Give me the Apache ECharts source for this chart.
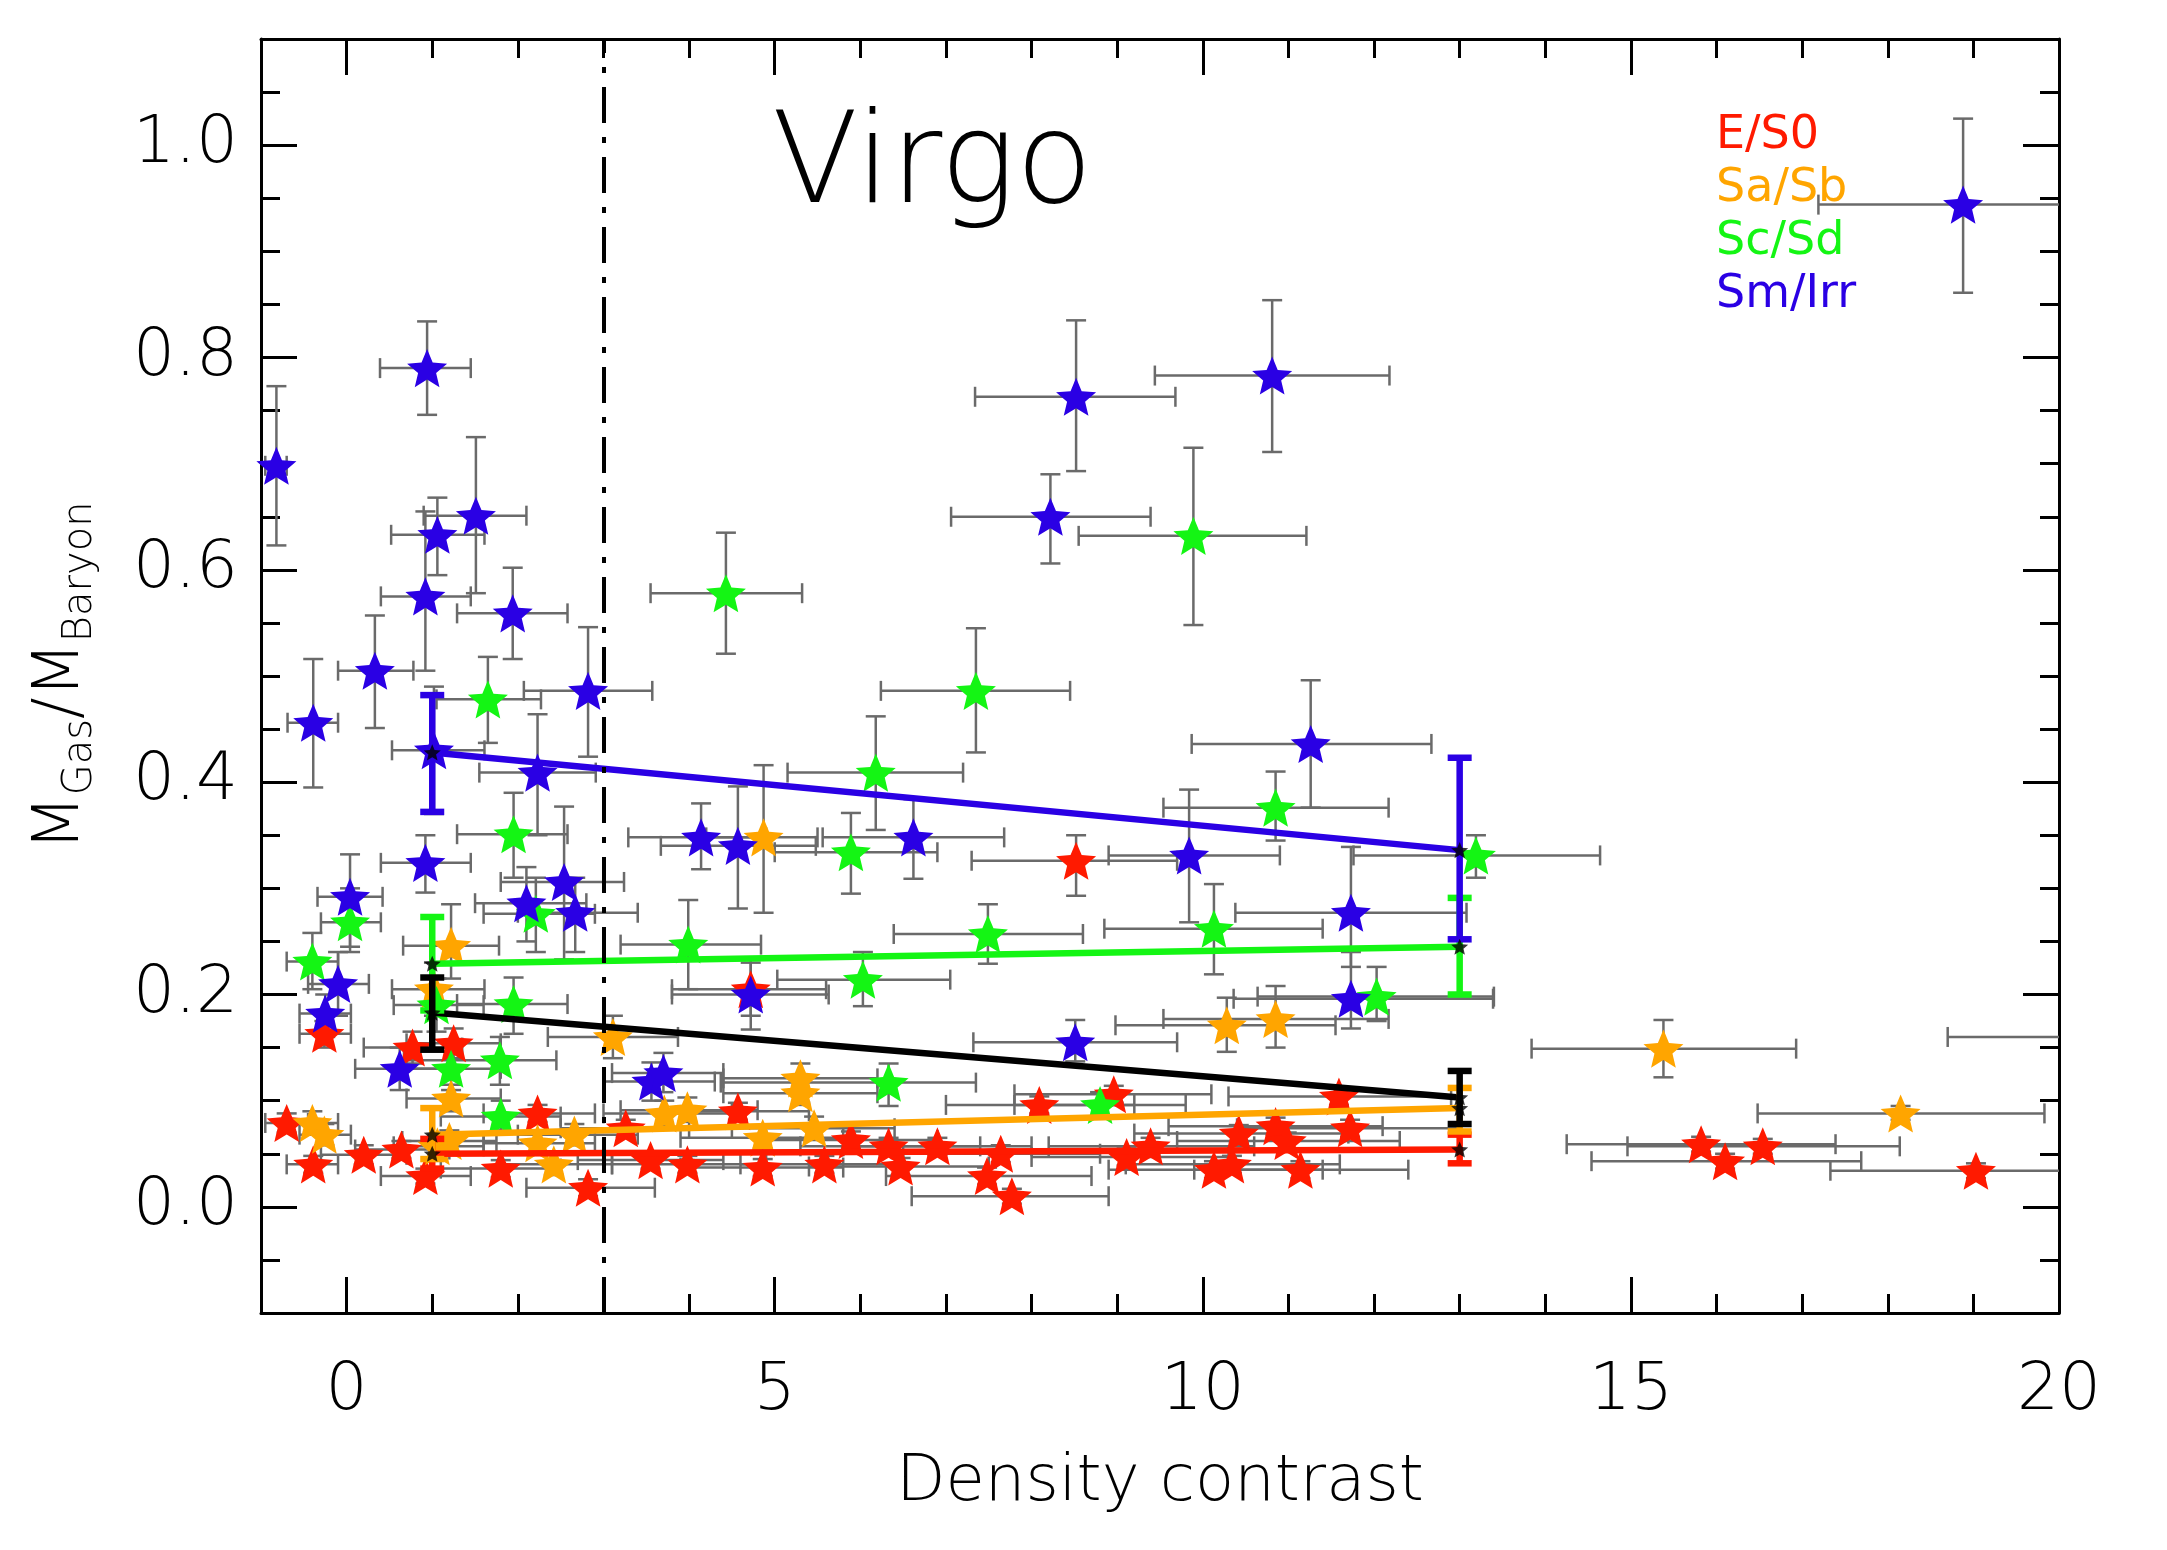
<!DOCTYPE html>
<html>
<head>
<meta charset="utf-8">
<title>Virgo - gas fraction vs density contrast</title>
<script src="https://cdn.jsdelivr.net/npm/echarts@6/dist/echarts.min.js"></script>
<style>
  html, body { margin: 0; padding: 0; background: #fff; }
  #chart { width: 2167px; height: 1550px; }
</style>
</head>
<body>
<div id="chart"></div>
<script>
// every row: [density contrast, Mgas/Mbaryon, x low, x high, y low, y high]
var esS0 = [
  [8.52, 0.326, 7.30, 9.70, 0.293, 0.350],
  [4.72, 0.205, 3.80, 5.60, 0.180, 0.230],
  [-0.26, 0.163, -0.55, 0.05, 0.150, 0.175],
  [0.77, 0.150, 0.20, 1.35, 0.135, 0.165],
  [1.25, 0.154, 0.70, 1.80, 0.140, 0.168],
  [-0.70, 0.079, -0.95, -0.45, 0.070, 0.088],
  [-0.39, 0.040, -0.70, -0.10, 0.032, 0.048],
  [0.20, 0.049, -0.30, 0.70, 0.040, 0.058],
  [0.64, 0.054, 0.10, 1.20, 0.046, 0.062],
  [0.92, 0.029, 0.40, 1.45, 0.022, 0.036],
  [1.80, 0.036, 1.10, 2.50, 0.028, 0.044],
  [2.23, 0.088, 1.60, 2.90, 0.080, 0.096],
  [2.82, 0.018, 2.10, 3.60, 0.010, 0.026],
  [3.26, 0.074, 2.50, 4.00, 0.066, 0.082],
  [3.55, 0.044, 2.70, 4.40, 0.036, 0.052],
  [3.98, 0.040, 3.10, 4.90, 0.032, 0.048],
  [4.57, 0.090, 3.70, 5.40, 0.082, 0.098],
  [4.86, 0.037, 3.90, 5.80, 0.029, 0.045],
  [5.58, 0.040, 4.60, 6.50, 0.032, 0.048],
  [5.89, 0.063, 4.90, 6.90, 0.055, 0.071],
  [6.33, 0.057, 5.30, 7.40, 0.049, 0.065],
  [6.47, 0.038, 5.40, 7.50, 0.030, 0.046],
  [6.90, 0.057, 5.80, 8.00, 0.049, 0.065],
  [7.48, 0.029, 6.30, 8.70, 0.021, 0.037],
  [7.64, 0.050, 6.50, 8.80, 0.042, 0.058],
  [7.77, 0.010, 6.60, 8.90, 0.003, 0.017],
  [8.09, 0.096, 7.00, 9.20, 0.088, 0.104],
  [8.96, 0.106, 7.80, 10.10, 0.098, 0.114],
  [9.11, 0.047, 8.00, 10.30, 0.039, 0.055],
  [9.39, 0.057, 8.20, 10.60, 0.049, 0.065],
  [10.13, 0.035, 8.90, 11.40, 0.027, 0.043],
  [10.34, 0.040, 9.10, 11.60, 0.032, 0.048],
  [10.42, 0.069, 9.20, 11.70, 0.061, 0.077],
  [10.85, 0.076, 9.60, 12.10, 0.068, 0.084],
  [10.98, 0.062, 9.70, 12.30, 0.054, 0.070],
  [11.14, 0.035, 9.90, 12.40, 0.027, 0.043],
  [11.59, 0.104, 10.30, 12.90, 0.096, 0.112],
  [11.72, 0.074, 10.40, 13.00, 0.066, 0.082],
  [15.82, 0.059, 14.25, 17.39, 0.052, 0.066],
  [16.10, 0.043, 14.54, 17.69, 0.036, 0.050],
  [16.54, 0.057, 14.96, 18.14, 0.050, 0.064],
  [19.03, 0.034, 17.33, 20.70, 0.027, 0.041]
];
var saSb = [
  [4.87, 0.348, 4.20, 5.50, 0.277, 0.416],
  [1.22, 0.246, 0.66, 1.78, 0.215, 0.285],
  [1.02, 0.205, 0.53, 1.61, 0.180, 0.230],
  [3.11, 0.160, 2.35, 3.87, 0.140, 0.180],
  [1.22, 0.102, 0.70, 1.80, 0.090, 0.115],
  [-0.40, 0.079, -0.70, -0.10, 0.068, 0.090],
  [-0.26, 0.068, -0.55, 0.05, 0.058, 0.078],
  [1.06, 0.057, 0.55, 1.60, 0.048, 0.068],
  [1.20, 0.062, 0.65, 1.75, 0.052, 0.072],
  [2.23, 0.060, 1.60, 2.90, 0.050, 0.070],
  [2.42, 0.040, 1.80, 3.10, 0.030, 0.050],
  [2.66, 0.068, 2.00, 3.40, 0.058, 0.078],
  [3.71, 0.088, 3.00, 4.50, 0.076, 0.100],
  [3.98, 0.091, 3.20, 4.80, 0.080, 0.103],
  [4.86, 0.065, 3.90, 5.80, 0.055, 0.076],
  [5.30, 0.121, 4.40, 6.20, 0.108, 0.135],
  [5.30, 0.107, 4.40, 6.20, 0.096, 0.118],
  [5.46, 0.074, 4.50, 6.40, 0.064, 0.085],
  [10.28, 0.171, 8.98, 11.55, 0.146, 0.197],
  [10.85, 0.177, 9.54, 12.17, 0.150, 0.208],
  [15.38, 0.149, 13.84, 16.93, 0.122, 0.176],
  [18.15, 0.088, 16.48, 19.83, 0.082, 0.095],
  [21.00, 0.160, 18.70, 23.30, 0.150, 0.170]
];
var scSd = [
  [4.43, 0.578, 3.55, 5.32, 0.521, 0.635],
  [7.35, 0.486, 6.24, 8.45, 0.428, 0.545],
  [6.18, 0.409, 5.15, 7.20, 0.355, 0.462],
  [5.89, 0.334, 5.00, 6.90, 0.295, 0.371],
  [7.49, 0.257, 6.39, 8.60, 0.229, 0.285],
  [3.99, 0.247, 3.20, 4.84, 0.205, 0.289],
  [6.03, 0.214, 5.03, 7.05, 0.189, 0.240],
  [6.33, 0.117, 4.37, 7.35, 0.095, 0.135],
  [8.80, 0.096, 7.80, 9.80, 0.085, 0.108],
  [9.89, 0.632, 8.55, 11.21, 0.548, 0.715],
  [10.85, 0.376, 9.54, 12.17, 0.345, 0.410],
  [10.13, 0.262, 8.85, 11.40, 0.219, 0.304],
  [13.19, 0.331, 11.76, 14.64, 0.310, 0.350],
  [12.03, 0.198, 10.64, 13.40, 0.175, 0.226],
  [1.65, 0.478, 1.05, 2.27, 0.437, 0.518],
  [1.95, 0.351, 1.29, 2.58, 0.310, 0.390],
  [2.21, 0.276, 1.60, 2.90, 0.240, 0.310],
  [0.04, 0.268, -0.30, 0.40, 0.240, 0.300],
  [-0.40, 0.231, -0.70, -0.10, 0.205, 0.258],
  [1.95, 0.191, 1.29, 2.58, 0.163, 0.216],
  [1.79, 0.138, 0.67, 2.45, 0.115, 0.160],
  [1.22, 0.130, 0.70, 1.80, 0.110, 0.150],
  [1.80, 0.085, 1.10, 2.50, 0.072, 0.100],
  [1.05, 0.190, 0.55, 1.60, 0.165, 0.215]
];
var smIrr = [
  [-0.82, 0.698, -0.95, -0.70, 0.623, 0.773],
  [0.94, 0.790, 0.39, 1.45, 0.746, 0.834],
  [1.06, 0.633, 0.52, 1.61, 0.595, 0.668],
  [1.51, 0.651, 0.90, 2.10, 0.578, 0.725],
  [0.92, 0.575, 0.40, 1.45, 0.505, 0.655],
  [1.94, 0.559, 1.29, 2.58, 0.516, 0.602],
  [0.33, 0.505, -0.10, 0.78, 0.451, 0.557],
  [-0.39, 0.456, -0.69, -0.10, 0.395, 0.516],
  [2.82, 0.486, 2.07, 3.57, 0.424, 0.546],
  [1.02, 0.430, 0.53, 1.61, 0.370, 0.490],
  [2.23, 0.409, 1.55, 2.91, 0.350, 0.464],
  [4.14, 0.348, 3.29, 4.90, 0.318, 0.380],
  [0.92, 0.324, 0.40, 1.45, 0.296, 0.350],
  [0.04, 0.292, -0.34, 0.42, 0.245, 0.332],
  [2.54, 0.306, 1.80, 3.24, 0.233, 0.377],
  [2.10, 0.286, 1.50, 2.80, 0.250, 0.320],
  [2.67, 0.277, 2.00, 3.40, 0.240, 0.310],
  [-0.10, 0.210, -0.45, 0.26, 0.180, 0.240],
  [-0.25, 0.182, -0.55, 0.05, 0.160, 0.200],
  [0.62, 0.130, 0.10, 1.20, 0.110, 0.150],
  [3.56, 0.118, 3.00, 4.30, 0.100, 0.136],
  [3.70, 0.126, 3.10, 4.40, 0.108, 0.145],
  [4.72, 0.200, 3.80, 5.63, 0.167, 0.233],
  [4.57, 0.340, 3.67, 5.48, 0.281, 0.396],
  [6.62, 0.348, 5.56, 7.68, 0.309, 0.384],
  [8.22, 0.650, 7.06, 9.39, 0.606, 0.690],
  [8.52, 0.763, 7.34, 9.68, 0.693, 0.835],
  [10.81, 0.783, 9.44, 12.18, 0.711, 0.854],
  [11.26, 0.436, 9.87, 12.67, 0.376, 0.496],
  [9.84, 0.331, 8.90, 10.90, 0.268, 0.393],
  [11.73, 0.277, 10.38, 13.08, 0.226, 0.339],
  [11.73, 0.196, 10.36, 13.39, 0.168, 0.240],
  [8.51, 0.155, 7.32, 9.70, 0.137, 0.176],
  [18.88, 0.944, 17.19, 20.60, 0.861, 1.025]
];

// linear fits, evaluated at the two ends, with their error bars [low, high]
var fitX = [1, 13];
var fitEsS0 = [0.050, 0.054];
var fitSaSb = [0.068, 0.093];
var fitScSd = [0.229, 0.245];
var fitSmIrr = [0.428, 0.336];
var fitAll = [0.183, 0.103];
var fitErrEsS0 = [[0.036, 0.064], [0.041, 0.068]];
var fitErrSaSb = [[0.045, 0.093], [0.071, 0.112]];
var fitErrScSd = [[0.185, 0.273], [0.200, 0.291]];
var fitErrSmIrr = [[0.372, 0.482], [0.252, 0.423]];
var fitErrAll = [[0.148, 0.216], [0.078, 0.128]];

var densityCut = 3;
var xTicks = [0, 5, 10, 15, 20];
var yTicks = [0, 0.2, 0.4, 0.6, 0.8, 1.0];
var classNames = ['E/S0', 'Sa/Sb', 'Sc/Sd', 'Sm/Irr'];

var X_MIN = -1, X_MAX = 20, Y_MIN = -0.1, Y_MAX = 1.1;
var RED = '#ff1a00', ORANGE = '#ffa500', GREEN = '#14f514', BLUE = '#2a00e4';
var FONT = '"DejaVu Sans", sans-serif';
var STAR = 'path://M50,0L63.22,31.8L97.55,34.55L71.4,56.95L79.39,90.45L50,72.5L20.61,90.45L28.6,56.95L2.45,34.55L36.78,31.8Z';
var CAP = 10;

function clampTo(v, lo, hi) { return Math.min(hi, Math.max(lo, v)); }

// grey error bars of one galaxy
function errorBarItem(params, api) {
  var x = api.value(0), y = api.value(1);
  var xl = api.value(2), xh = api.value(3), yl = api.value(4), yh = api.value(5);
  var kids = [];
  function seg(a, b) {
    kids.push({ type: 'line', shape: { x1: a[0], y1: a[1], x2: b[0], y2: b[1] },
      style: { stroke: '#6a6a6a', lineWidth: 2.5 } });
  }
  if (y >= Y_MIN && y <= Y_MAX) {
    var l = api.coord([clampTo(xl, X_MIN, X_MAX), y]);
    var r = api.coord([clampTo(xh, X_MIN, X_MAX), y]);
    seg(l, r);
    if (xl >= X_MIN) seg([l[0], l[1] - CAP], [l[0], l[1] + CAP]);
    if (xh <= X_MAX) seg([r[0], r[1] - CAP], [r[0], r[1] + CAP]);
  }
  if (x >= X_MIN && x <= X_MAX) {
    var b = api.coord([x, clampTo(yl, Y_MIN, Y_MAX)]);
    var t = api.coord([x, clampTo(yh, Y_MIN, Y_MAX)]);
    seg(b, t);
    if (yl >= Y_MIN) seg([b[0] - CAP, b[1]], [b[0] + CAP, b[1]]);
    if (yh <= Y_MAX) seg([t[0] - CAP, t[1]], [t[0] + CAP, t[1]]);
  }
  return { type: 'group', children: kids };
}

function errSeries(rows) {
  return { type: 'custom', data: rows, renderItem: errorBarItem, encode: { x: 0, y: 1 }, silent: true, z: 2 };
}
function starSeries(rows, color) {
  return { type: 'scatter', data: rows.map(function (r) { return [r[0], r[1]]; }),
    symbol: STAR, symbolSize: 40, symbolKeepAspect: true,
    itemStyle: { color: color, opacity: 1 }, silent: true, z: 3 };
}
function fitSeries(vals, color) {
  return { type: 'line', data: fitX.map(function (x, i) { return [x, vals[i]]; }),
    showSymbol: false, lineStyle: { color: color, width: 6.5 }, silent: true, z: 4 };
}
function fitErrSeries(errs, color) {
  return {
    type: 'custom', silent: true, z: 5,
    data: fitX.map(function (x, i) { return [x, errs[i][0], errs[i][1]]; }),
    encode: { x: 0, y: [1, 2] },
    renderItem: function (params, api) {
      var lo = api.coord([api.value(0), api.value(1)]);
      var hi = api.coord([api.value(0), api.value(2)]);
      var st = { stroke: color, lineWidth: 6.5 };
      return { type: 'group', children: [
        { type: 'line', shape: { x1: lo[0], y1: lo[1], x2: hi[0], y2: hi[1] }, style: st },
        { type: 'line', shape: { x1: lo[0] - 12, y1: lo[1], x2: lo[0] + 12, y2: lo[1] }, style: st },
        { type: 'line', shape: { x1: hi[0] - 12, y1: hi[1], x2: hi[0] + 12, y2: hi[1] }, style: st }
      ] };
    }
  };
}

function frameAxis(kind, pos, major) {
  var ax = {
    type: 'value', position: pos,
    min: kind === 'x' ? X_MIN : Y_MIN, max: kind === 'x' ? X_MAX : Y_MAX,
    axisLine: { show: major, onZero: false, lineStyle: { color: '#000', width: 3 } },
    axisTick: { show: true, inside: true, length: major ? 36 : 19, lineStyle: { color: '#000', width: 3 } },
    axisLabel: { show: false },
    splitLine: { show: false }
  };
  if (major) {
    ax.axisTick.customValues = kind === 'x' ? xTicks : yTicks;
  } else {
    ax.interval = kind === 'x' ? 1 : 0.05;
  }
  return ax;
}

var xMain = frameAxis('x', 'bottom', true);
xMain.axisLabel = { show: true, customValues: xTicks, fontSize: 66, fontFamily: FONT, fontWeight: 200, color: '#000', margin: 46 };
xMain.name = 'Density contrast';
xMain.nameLocation = 'middle';
xMain.nameGap = 138;
xMain.nameTextStyle = { fontSize: 64, fontFamily: FONT, fontWeight: 200, color: '#000' };

var yMain = frameAxis('y', 'left', true);
yMain.axisLabel = { show: true, customValues: yTicks, fontSize: 66, fontFamily: FONT, fontWeight: 200, color: '#000', margin: 23,
  formatter: function (v) { return v.toFixed(1); } };
yMain.name = '{m|M}{s|Gas}{m|/M}{s|Baryon}';
yMain.nameLocation = 'middle';
yMain.nameRotate = 90;
yMain.nameGap = 160;
yMain.nameTextStyle = { color: '#000', rich: {
  m: { fontSize: 64, lineHeight: 80, fontFamily: FONT, fontWeight: 200, color: '#000' },
  s: { fontSize: 40, lineHeight: 40, verticalAlign: 'bottom', fontFamily: FONT, fontWeight: 200, color: '#000' }
} };

var legendColors = [RED, ORANGE, GREEN, BLUE];
var graphics = [{
  type: 'text', left: 772, top: 106, silent: true,
  style: { text: 'Virgo', fill: '#000', font: '200 126px ' + FONT }
}];
classNames.forEach(function (n, i) {
  graphics.push({ type: 'text', left: 1716, top: 113 + i * 53, silent: true,
    style: { text: n, fill: legendColors[i], font: '46px ' + FONT } });
});

var chart = echarts.init(document.getElementById('chart'), null, { renderer: 'canvas' });
chart.setOption({
  backgroundColor: '#fff',
  animation: false,
  grid: { left: 261, right: 108, top: 39, bottom: 237, containLabel: false, outerBoundsMode: 'none' },
  xAxis: [xMain, frameAxis('x', 'bottom', false), frameAxis('x', 'top', true), frameAxis('x', 'top', false)],
  yAxis: [yMain, frameAxis('y', 'left', false), frameAxis('y', 'right', true), frameAxis('y', 'right', false)],
  graphic: graphics,
  series: [
    errSeries(esS0), errSeries(saSb), errSeries(scSd), errSeries(smIrr),
    starSeries(esS0, RED), starSeries(saSb, ORANGE), starSeries(scSd, GREEN),
    Object.assign(starSeries(smIrr, BLUE), {
      markLine: {
        silent: true, symbol: 'none', label: { show: false },
        lineStyle: { color: '#000', width: 4, type: [36, 14, 6, 14] },
        data: [{ xAxis: densityCut }]
      }
    }),
    fitSeries(fitEsS0, RED), fitSeries(fitSaSb, ORANGE), fitSeries(fitScSd, GREEN),
    fitSeries(fitSmIrr, BLUE), fitSeries(fitAll, '#000'),
    fitErrSeries(fitErrEsS0, RED), fitErrSeries(fitErrSaSb, ORANGE), fitErrSeries(fitErrScSd, GREEN),
    fitErrSeries(fitErrSmIrr, BLUE), fitErrSeries(fitErrAll, '#000'),
    {
      type: 'scatter', silent: true, z: 6, symbol: STAR, symbolSize: 17, symbolKeepAspect: true,
      itemStyle: { color: '#000' },
      data: [fitEsS0, fitSaSb, fitScSd, fitSmIrr, fitAll].reduce(function (acc, f) {
        return acc.concat(fitX.map(function (x, i) { return [x, f[i]]; }));
      }, [])
    }
  ]
});
</script>
</body>
</html>
